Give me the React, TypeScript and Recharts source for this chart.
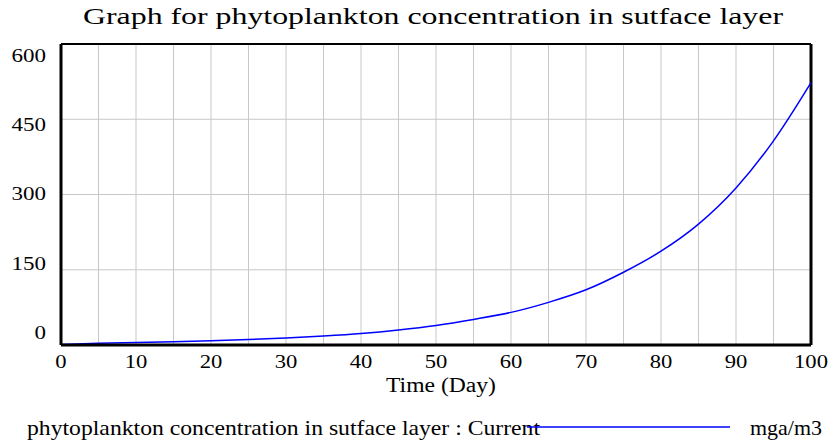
import React from 'react';
import { LineChart, Line, XAxis, YAxis, CartesianGrid, ReferenceLine } from 'recharts';

const days = [0, 5, 10, 15, 20, 25, 30, 35, 40, 45, 50, 55, 60, 65, 70, 75, 80, 85, 90, 95, 100];
const phyto = [1, 3.5, 5, 6.5, 8.5, 11, 14, 18, 23, 30, 39, 51, 65, 85, 110, 145, 187, 241, 313, 407, 523];
const xTicks = [0, 5, 10, 15, 20, 25, 30, 35, 40, 45, 50, 55, 60, 65, 70, 75, 80, 85, 90, 95, 100];
const yTicks = [0, 150, 300, 450, 600];

const title = 'Graph for phytoplankton concentration in sutface layer';
const xLabel = 'Time (Day)';
const legendLabel = 'phytoplankton concentration in sutface layer : Current';
const unitLabel = 'mga/m3';

const data = days.map((d, i) => ({ day: d, value: phyto[i] }));

const FONT = 'Liberation Serif';

const XTick = (props: any) => {
  const { x, y, payload } = props;
  if (payload.value % 10 !== 0) return <g />;
  const s = String(payload.value);
  return (
    <text x={x} y={y + 23} textAnchor="middle" fontFamily={FONT} fontSize={18} fill="#000"
      textLength={s.length * 11.3} lengthAdjust="spacingAndGlyphs">{s}</text>
  );
};

const YTick = (props: any) => {
  const { x, y, payload } = props;
  const s = String(payload.value);
  const by = 61.7 + (y - 44) * (277.3 / 301);
  return (
    <text x={x - 15} y={by} textAnchor="end" fontFamily={FONT} fontSize={18} fill="#000"
      textLength={s.length * 11.5} lengthAdjust="spacingAndGlyphs">{s}</text>
  );
};

export default function App() {
  return (
    <div style={{ position: 'absolute', left: 0, top: 0, width: 832, height: 445, background: '#fff' }}>
      <LineChart width={832} height={445} data={data} margin={{ top: 44, right: 21, bottom: 0, left: 0 }}>
        <CartesianGrid stroke="#c8c8c8" strokeWidth={1} />
        <XAxis dataKey="day" type="number" domain={[0, 100]} ticks={xTicks} interval={0}
          tickLine={false} tickSize={0} tickMargin={0} height={100}
          axisLine={{ stroke: '#000', strokeWidth: 3 }} tick={<XTick />} />
        <YAxis type="number" domain={[0, 600]} ticks={yTicks} interval={0} width={61}
          tickLine={false} tickSize={0} tickMargin={0}
          axisLine={{ stroke: '#000', strokeWidth: 3 }} tick={<YTick />} />
        <ReferenceLine x={100} stroke="#000" strokeWidth={3} />
        <ReferenceLine y={600} stroke="#000" strokeWidth={2} />
        <Line type="monotone" dataKey="value" stroke="#0000ff" strokeWidth={1.5} dot={false} isAnimationActive={false} />
      </LineChart>
      <svg width={832} height={445} style={{ position: 'absolute', left: 0, top: 0, pointerEvents: 'none' }}>
        <text x={83} y={24} fontFamily={FONT} fontSize={23} fill="#000"
          textLength={700} lengthAdjust="spacingAndGlyphs">{title}</text>
        <text x={386} y={392} fontFamily={FONT} fontSize={20} fill="#000"
          textLength={110} lengthAdjust="spacingAndGlyphs">{xLabel}</text>
        <text x={27} y={435} fontFamily={FONT} fontSize={22} fill="#000"
          textLength={513} lengthAdjust="spacingAndGlyphs">{legendLabel}</text>
        <line x1={527} y1={427} x2={730} y2={427} stroke="#0000ff" strokeWidth={1.5} />
        <text x={750} y={435} fontFamily={FONT} fontSize={22} fill="#000"
          textLength={72} lengthAdjust="spacingAndGlyphs">{unitLabel}</text>
      </svg>
    </div>
  );
}
